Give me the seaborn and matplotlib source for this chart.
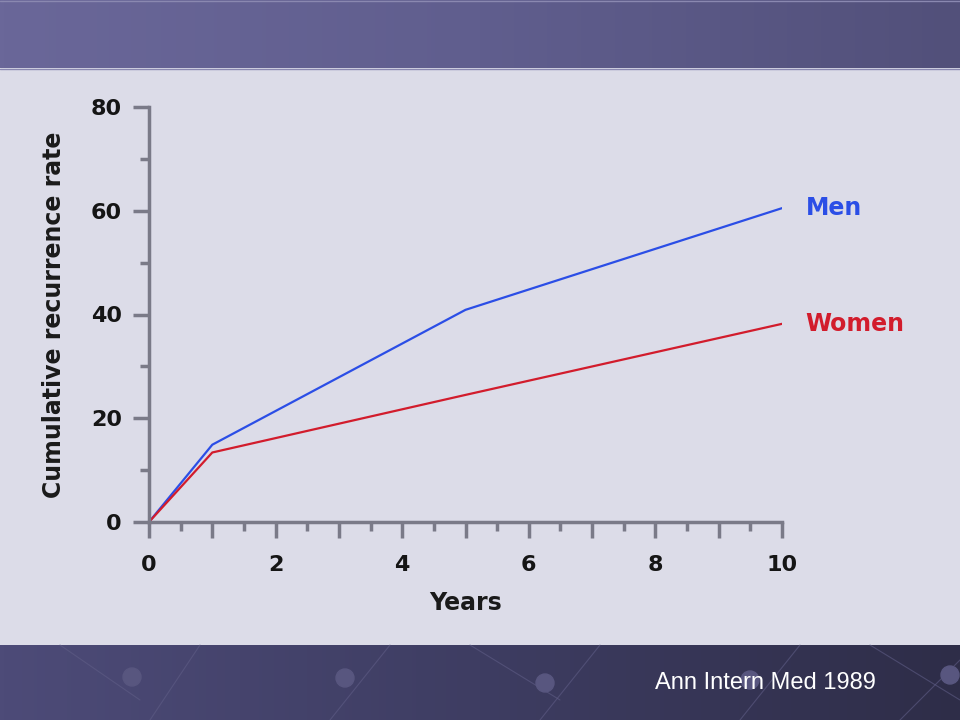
import numpy as np
import pandas as pd
import matplotlib
matplotlib.use("Agg")
import matplotlib.pyplot as plt
from matplotlib.colors import LinearSegmentedColormap
import seaborn as sns

# ---- data ----
years = [0, 1, 5, 10]
men = [0, 14.9, 40.9, 60.5]
women = [0, 13.4, 24.5, 38.2]
series_names = ["Men", "Women"]
x_ticklabels = ["0", "2", "4", "6", "8", "10"]
y_ticklabels = ["0", "20", "40", "60", "80"]
source_text = "Ann Intern Med 1989"

df = pd.DataFrame({
    "Years": years * 2,
    "rate": men + women,
    "sex": [series_names[0]] * len(years) + [series_names[1]] * len(years),
})

sns.set_theme(style="white")
plt.rcParams['font.family'] = ['DejaVu Sans']

W, H = 960, 720
fig = plt.figure(figsize=(9.6, 7.2), dpi=100)
bg_col = "#dcdce8"
fig.patch.set_facecolor(bg_col)

# background decoration axes (pixel coords, y down)
bg = fig.add_axes([0, 0, 1, 1], zorder=-10)
bg.axis("off")

top_cmap = LinearSegmentedColormap.from_list("top", ["#6a6799", "#605e8e", "#52507a"])
bot_cmap = LinearSegmentedColormap.from_list("bot", ["#4d4b78", "#3e3d62", "#2e2d48"])
grad = np.linspace(0, 1, 256).reshape(1, -1)
bg.imshow(grad, cmap=top_cmap, extent=[0, W, 68, 0], aspect="auto", zorder=0)
bg.imshow(grad, cmap=bot_cmap, extent=[0, W, H, 645], aspect="auto", zorder=0)
bg.set_xlim(0, W)
bg.set_ylim(H, 0)
bg.plot([0, W], [68.5, 68.5], color="#8a88b0", lw=1, zorder=1)
bg.plot([0, W], [1, 1], color="#8a88b0", lw=1, zorder=1)

# faint decorative lines + spheres in bottom band
for (x0, y0, x1, y1) in [(60, 645, 140, 700), (150, 720, 200, 645), (330, 720, 390, 645),
                         (540, 720, 600, 645), (470, 645, 560, 700), (740, 720, 800, 645),
                         (870, 645, 960, 700), (900, 720, 960, 660)]:
    bg.plot([x0, x1], [y0, y1], color="#5f5d86", lw=0.8, alpha=0.6, zorder=1)
for (cx, cy) in [(132, 677), (345, 678), (545, 683), (750, 680), (950, 675)]:
    bg.add_patch(plt.Circle((cx, cy), 9, color="#58567f", zorder=2))

bg.text(876, 683, source_text, color="white", fontsize=17, ha="right", va="center",
        family=["Liberation Sans", "DejaVu Sans"], zorder=3)

# ---- main axes ----
left, right, top, bottom = 149, 782, 107, 522
ax = fig.add_axes([left / W, 1 - bottom / H, (right - left) / W, (bottom - top) / H])
ax.set_facecolor("none")

palette = {"Men": "#2b4ee6", "Women": "#d21c2c"}
sns.lineplot(data=df, x="Years", y="rate", hue="sex", palette=palette,
             linewidth=1.6, legend=False, ax=ax)

ax.set_xlim(0, 10)
ax.set_ylim(0, 80)

spine_col = "#7a7a88"
for s in ["top", "right"]:
    ax.spines[s].set_visible(False)
for s in ["left", "bottom"]:
    ax.spines[s].set_color(spine_col)
    ax.spines[s].set_linewidth(2.5)

ax.set_xticks(range(0, 11))
ax.set_xticklabels([x_ticklabels[i // 2] if i % 2 == 0 else "" for i in range(0, 11)])
ax.set_xticks(np.arange(0.5, 10, 1.0), minor=True)
ax.set_yticks(range(0, 81, 20))
ax.set_yticklabels(y_ticklabels)
ax.set_yticks(range(10, 80, 20), minor=True)

ax.tick_params(axis="both", which="major", direction="out", length=11.5, width=2.5,
               color=spine_col, labelsize=16, labelcolor="#151515",
               bottom=True, left=True)
ax.tick_params(axis="x", which="major", pad=12)
ax.tick_params(axis="y", which="major", pad=8)
ax.tick_params(axis="both", which="minor", direction="out", length=6.5, width=2.5,
               color=spine_col, bottom=True, left=True)
for lab in ax.get_xticklabels() + ax.get_yticklabels():
    lab.set_fontweight("bold")

ax.set_xlabel("Years", fontsize=17, fontweight="bold", color="#1a1a1a", labelpad=12)
ax.set_ylabel("Cumulative recurrence rate", fontsize=17, fontweight="bold",
              color="#1a1a1a", labelpad=18)

# series labels at line ends
ax.annotate(series_names[0], xy=(years[-1], men[-1]), xytext=(17, 0), textcoords="offset points",
            color=palette["Men"], fontsize=17, fontweight="bold", va="center", ha="left",
            annotation_clip=False)
ax.annotate(series_names[1], xy=(years[-1], women[-1]), xytext=(17, 0), textcoords="offset points",
            color=palette["Women"], fontsize=17, fontweight="bold", va="center", ha="left",
            annotation_clip=False)

fig.savefig("out.png", dpi=100, facecolor=fig.get_facecolor())
